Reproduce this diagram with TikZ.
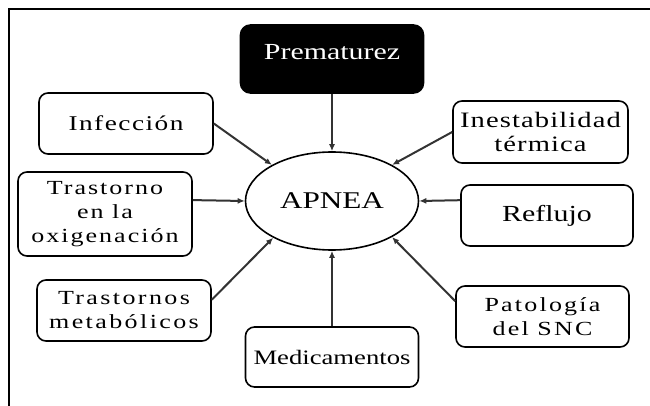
\documentclass[tikz,border=0pt]{standalone}
\usepackage{fontspec}
\setmainfont[FakeStretch=1.3]{Liberation Serif}
\usetikzlibrary{arrows.meta,shapes.geometric}
\newcommand\causefont[2]{\fontsize{#1}{24}\selectfont\addfontfeature{LetterSpace=#2}}
\begin{document}
\begin{tikzpicture}
  [x=1pt,y=-1pt,every node/.style={inner sep=0pt,align=center}]
  \tikzstyle{cause} = [draw,rounded corners=9pt,line width=1.6pt,minimum width=174pt,minimum height=61pt]
  \tikzstyle{link} = [-{Latex[length=7pt,width=6pt]},line width=2pt,draw=black!80]
  \useasboundingbox (0,0) rectangle (650,406);
  \draw[line width=2.7pt] (9,406) -- (9,9) -- (650,9);

  \node[ellipse,draw,line width=1.6pt,minimum width=173pt,minimum height=98pt,font=\fontsize{24}{24}\selectfont] (apnea) at (332,201) {APNEA};
  \node[cause,fill=black,text=white,rounded corners=10pt,minimum width=183pt,minimum height=68pt,text height=16pt,text depth=15pt,font=\causefont{23}{0}] (prem) at (332,59) {Prematurez};
  \node[cause,font=\causefont{21}{7}] (inf) at (126,123.5) {Infección};
  \node[cause,minimum height=84pt,font=\causefont{20}{10}] (oxi) at (105,214) {Trastorno\\en la\\oxigenación};
  \node[cause,font=\causefont{20}{12}] (meta) at (124,310.5) {Trastornos\\metabólicos};
  \node[cause,minimum width=173pt,minimum height=60pt,font=\causefont{20.5}{0}] (med) at (332,357) {Medicamentos};
  \node[cause,minimum width=173pt,font=\causefont{20}{11}] (snc) at (542.5,316.5) {Patología\\del SNC};
  \node[cause,minimum width=172pt,font=\causefont{23}{0}] (refl) at (547,215.5) {Reflujo};
  \node[cause,minimum width=175pt,minimum height=62pt,font=\causefont{22}{5}] (term) at (540.5,132) {Inestabilidad\\térmica};

\foreach \source/\dest in {prem.south/apnea.north,inf.east/apnea.149,term.west/apnea.31,oxi.9/apnea.west,
  refl.170/apnea.east,meta.7/apnea.212,snc.170/apnea.329,med.north/apnea.south}
   \draw[link] (\source) -- (\dest);

  \end{tikzpicture}
\end{document}
